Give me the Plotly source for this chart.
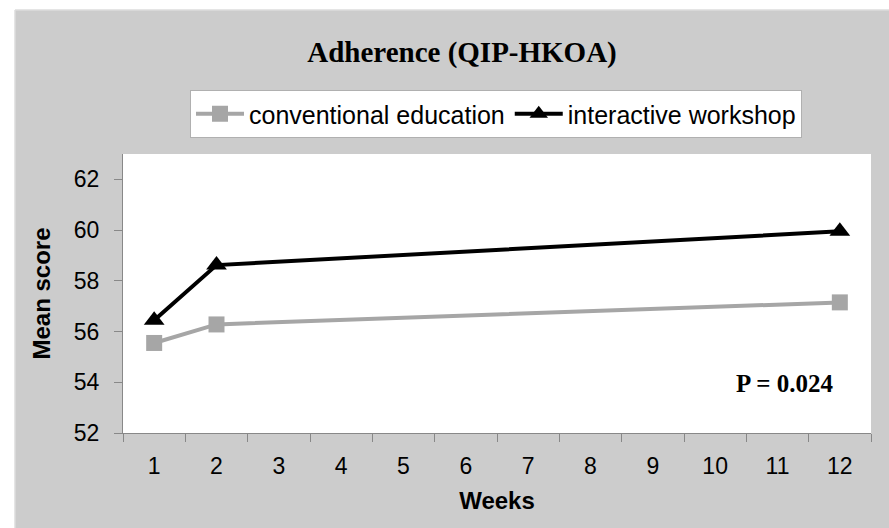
import plotly.graph_objects as go

weeks = ["1", "2", "12"]
all_weeks = [str(i) for i in range(1, 13)]
conventional = [55.55, 56.28, 57.15]
interactive = [56.45, 58.62, 59.95]

W, H = 889, 528
ML, MR, MT, MB = 123, 18, 154, 95
PW, PH = W - ML - MR, H - MT - MB


def px(x):
    return (x - ML) / PW


def py(y):
    return (H - MB - y) / PH


fig = go.Figure()
fig.add_trace(go.Scatter(
    x=weeks, y=conventional, name="conventional education",
    mode="lines+markers",
    line=dict(color="#a6a6a6", width=4),
    marker=dict(symbol="square", size=16, color="#a6a6a6"),
))
fig.add_trace(go.Scatter(
    x=weeks, y=interactive, name="interactive workshop",
    mode="lines+markers",
    line=dict(color="#000000", width=4),
    marker=dict(symbol="triangle-up", size=18, color="#000000"),
))

shapes = [
    dict(type="rect", xref="paper", yref="paper", x0=px(0), x1=px(15), y0=py(H), y1=py(0),
         fillcolor="#ffffff", line=dict(width=0), layer="above"),
    dict(type="rect", xref="paper", yref="paper", x0=px(0), x1=px(W), y0=py(10), y1=py(0),
         fillcolor="#ffffff", line=dict(width=0), layer="above"),
    dict(type="line", xref="paper", yref="paper", x0=px(15), x1=px(15), y0=py(H), y1=py(10),
         line=dict(color="#dddddd", width=1.5)),
    dict(type="line", xref="paper", yref="paper", x0=px(15), x1=px(W), y0=py(10), y1=py(10),
         line=dict(color="#dddddd", width=1.5)),
]

fig.update_layout(
    width=W, height=H,
    paper_bgcolor="#cccccc", plot_bgcolor="#ffffff",
    margin=dict(l=ML, r=MR, t=MT, b=MB),
    title=dict(text="<b>Adherence (QIP-HKOA)</b>", x=462 / W, xanchor="center",
               y=1 - 52 / H, yanchor="middle",
               font=dict(family="Liberation Serif", size=29, color="#000000")),
    legend=dict(orientation="h", x=px(496), xanchor="center",
                y=1 - 114 / H, yref="container", yanchor="middle",
                bgcolor="#ffffff", bordercolor="#b0b0b0", borderwidth=1,
                font=dict(family="Liberation Sans", size=25, color="#000000"),
                itemwidth=48, tracegroupgap=0),
    showlegend=True,
    shapes=shapes,
    xaxis=dict(type="category", categoryorder="array", categoryarray=all_weeks,
               range=[-0.5, 11.5], tickson="boundaries", ticks="outside",
               ticklen=8, tickcolor="#888888", showline=True, linecolor="#888888",
               linewidth=1, showgrid=False, zeroline=False,
               ticklabelstandoff=12,
               tickfont=dict(family="Liberation Sans", size=23, color="#000000"),
               title=dict(text="<b>Weeks</b>", standoff=14,
                          font=dict(family="Liberation Sans", size=24, color="#000000"))),
    yaxis=dict(range=[52, 63], tickvals=[52, 54, 56, 58, 60, 62], ticks="outside",
               ticklen=8, tickcolor="#888888", showline=True, linecolor="#888888",
               linewidth=1, showgrid=False, zeroline=False,
               ticklabelstandoff=10,
               tickfont=dict(family="Liberation Sans", size=23, color="#000000"),
               title=dict(text="<b>Mean score</b>", standoff=16,
                          font=dict(family="Liberation Sans", size=24, color="#000000"))),
    annotations=[dict(text="<b>P = 0.024</b>", x=px(784), y=py(383), xref="paper", yref="paper",
                      xanchor="center", yanchor="middle", showarrow=False,
                      font=dict(family="Liberation Serif", size=25, color="#000000"))],
)

fig.write_html("out.html", config={"displayModeBar": False},
               post_script="document.body.style.margin='0';")
